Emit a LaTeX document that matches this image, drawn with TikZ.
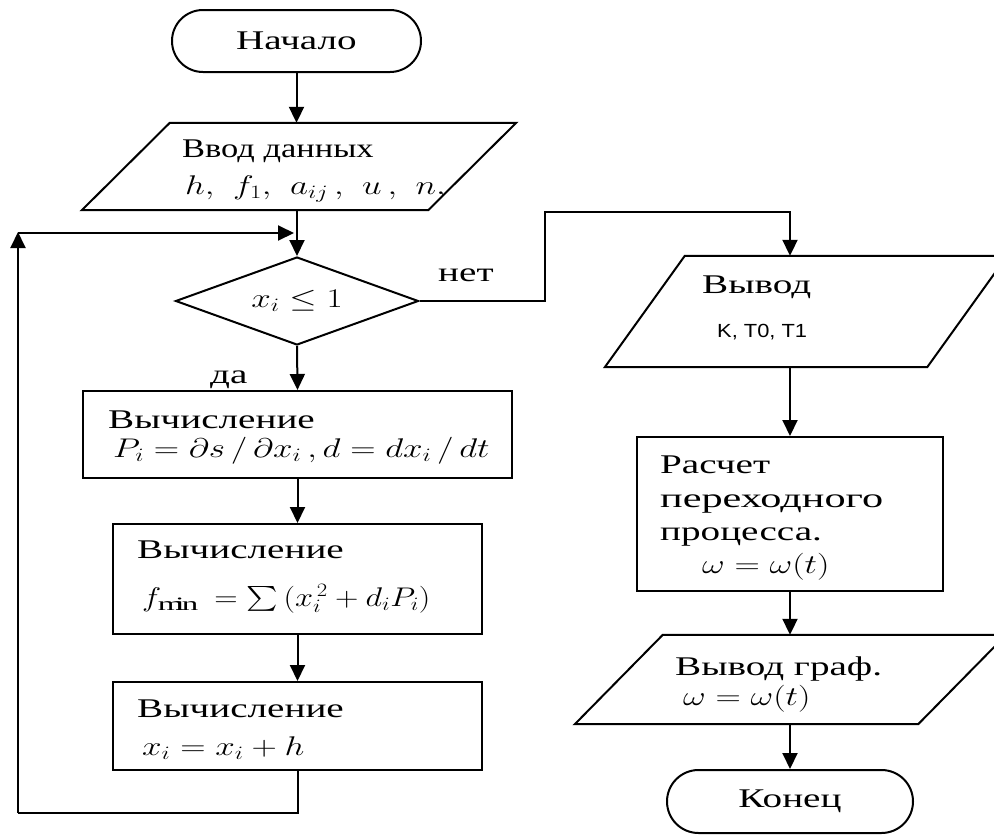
\RequirePackage{fix-cm}
\documentclass[tikz,border=0pt]{standalone}
\usepackage{exscale}
\usepackage{fontspec}
\usepackage{graphicx}
\setmainfont{Liberation Serif}[FakeStretch=1.45]
\newfontfamily\lsans{Liberation Sans}
\usetikzlibrary{arrows.meta,shapes.geometric}
\newcommand\wm[2][1.3]{\scalebox{#1}[1]{$#2$}}
\begin{document}
\begin{tikzpicture}[x=1pt,y=-1pt,
  font=\fontsize{27}{32}\selectfont,
  shapeline/.style={line width=2pt},
  term/.style={draw, shapeline, rectangle, rounded corners=31pt, inner sep=0},
  box/.style={draw, shapeline, rectangle, inner sep=0},
  inv/.style={inner sep=0},
  txt/.style={inner sep=0, anchor=base west},
  conn/.style={line width=2pt},
  arr/.style={-{Triangle[width=15pt,length=16pt]}}]
\useasboundingbox (0,0) rectangle (994,836);
\fill[white] (0,0) rectangle (994,836);
\begin{scope}
\clip (0,0) rectangle (994,836);
% left column
\node[term, minimum width=249pt, minimum height=62pt] (start) at (296.5,41) {Начало};
\node[inv, minimum width=346pt, minimum height=87pt] (in) at (299,166.5) {};
\draw[shapeline] ([xshift=-44pt]in.south west) -- ([xshift=44pt]in.north west) -- ([xshift=44pt]in.north east) -- ([xshift=-44pt]in.south east) -- cycle;
\node[txt] (inL1) at (182,157) {\scalebox{0.88}[1]{Ввод данных}};
\node[txt] (inL2) at (185,194) {\wm{h,\ f_1,\ a_{ij}\,,\ u\,,\ n,}};
\node[draw, shapeline, diamond, aspect=2.76, minimum width=243pt, minimum height=88pt, inner sep=0] (dec) at (297,301) {\wm{x_i \le 1}};
\node[box, minimum width=429pt, minimum height=87pt] (b1) at (297.5,434.5) {};
\node[txt] (b1a) at (108,428) {Вычисление};
\node[txt] (b1b) at (113,457) {\wm{P_i = \partial s\,/\,\partial x_i\,, d = dx_i\,/\,dt}};
\node[box, minimum width=369pt, minimum height=110pt] (b2) at (297.5,579) {};
\node[txt] (b2a) at (137,558) {Вычисление};
\node[txt] (b2b) at (142,606) {\wm[1.2]{f_{\mathrm{min}}\ = \sum\, (x_i^{\,2} + d_i P_i)}};
\node[box, minimum width=369pt, minimum height=88pt] (b3) at (297.5,726) {};
\node[txt] (b3a) at (137,717) {Вычисление};
\node[txt] (b3b) at (142,755) {\wm{x_i = x_i + h}};
\node[txt] (yes) at (210,383) {да};
\node[txt] (no) at (438,281) {нет};
% right column
\node[inv, minimum width=322pt, minimum height=111pt] (out) at (806,311.5) {};
\draw[shapeline] ([xshift=-40pt]out.south west) -- ([xshift=40pt]out.north west) -- ([xshift=40pt]out.north east) -- ([xshift=-40pt]out.south east) -- cycle;
\node[txt] (outa) at (702,293) {Вывод};
\node[txt, font=\lsans\fontsize{19}{22}\selectfont] (outb) at (717,337) {\scalebox{1.15}[1]{K, T0, T1}};
\node[box, minimum width=306pt, minimum height=154pt] (calc) at (790,514) {};
\node[txt] (c1) at (660,473) {Расчет};
\node[txt] (c2) at (660,507) {\scalebox{1.08}[1]{переходного}};
\node[txt] (c3) at (660,540) {процесса.};
\node[txt] (c4) at (702,573) {\wm{\omega = \omega(t)}};
\node[inv, minimum width=343pt, minimum height=89pt] (graf) at (790.5,679.5) {};
\draw[shapeline] ([xshift=-44pt]graf.south west) -- ([xshift=44pt]graf.north west) -- ([xshift=44pt]graf.north east) -- ([xshift=-44pt]graf.south east) -- cycle;
\node[txt] (g1) at (675,675) {Вывод граф.};
\node[txt] (g2) at (683,705) {\wm{\omega = \omega(t)}};
\node[term, rounded corners=31.5pt, minimum width=246pt, minimum height=63pt] (end) at (790,801.5) {Конец};
% connectors
\coordinate (j) at (297,233);
\coordinate (l1) at (18,813);
\coordinate (l2) at (18,232);
\coordinate (l3) at (18,233);
\coordinate (n1) at (545,212);
\coordinate (n2) at (790,212);
\draw[conn,arr] (start.south) -- (start.south |- in.north);
\draw[conn,arr] (in.south -| dec.north) -- (dec.north);
\draw[conn] (b3.south) |- (l1);
\draw[conn,arr] (l1) -- (l2);
\draw[conn,arr,shorten >=3pt] (l3) -- (j);
\draw[conn,arr] (dec.south) -- (b1.north);
\draw[conn,arr] (b1.south) -- (b2.north);
\draw[conn,arr] (b2.south) -- (b3.north);
\draw[conn,arr] (dec.east) -| (n1) -- (n2) -- (n2 |- out.north);
\draw[conn,arr] (calc.north |- out.south) -- (calc.north);
\draw[conn,arr] (calc.south) -- (calc.south |- graf.north);
\draw[conn,arr] (graf.south -| end.north) -- (end.north);
\end{scope}
\end{tikzpicture}
\end{document}
